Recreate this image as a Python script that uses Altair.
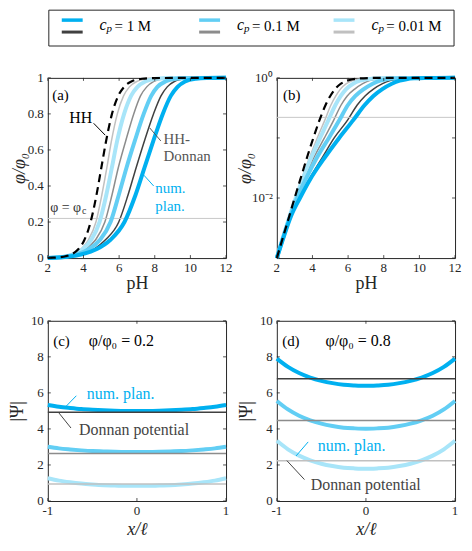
import altair as alt
import pandas as pd

# ---------------- data ----------------
PHI_LEVELS = [0.001, 0.002, 0.005, 0.01, 0.02, 0.05, 0.1, 0.2, 0.35, 0.5,
              0.65, 0.8, 0.9, 0.95, 0.98, 0.995, 0.999, 1.0]
PH_HH = [2.0, 2.30, 2.70, 3.00, 3.31, 3.72, 4.05, 4.40, 4.73, 5.00,
         5.27, 5.60, 5.95, 6.28, 6.69, 7.30, 8.0, 12.0]
PH_NUM_1 = [2.0, 2.33, 2.8, 3.3, 3.85, 4.75, 5.5, 6.3, 6.92, 7.42,
            7.92, 8.45, 8.9, 9.28, 9.7, 10.3, 10.9, 12.0]
PH_DON_1 = [2.0, 2.33, 2.8, 3.28, 3.8, 4.6, 5.22, 5.98, 6.5, 6.95,
            7.42, 7.93, 8.35, 8.7, 9.1, 9.7, 10.3, 12.0]
PH_NUM_01 = [2.0, 2.31, 2.75, 3.13, 3.6, 4.3, 4.92, 5.52, 5.98, 6.41,
             6.88, 7.38, 7.8, 8.15, 8.6, 9.2, 9.8, 12.0]
PH_DON_01 = [2.0, 2.31, 2.74, 3.1, 3.52, 4.12, 4.67, 5.2, 5.6, 5.95,
             6.37, 6.82, 7.2, 7.55, 7.95, 8.5, 9.1, 12.0]
PH_NUM_001 = [2.0, 2.3, 2.72, 3.06, 3.43, 3.97, 4.43, 4.9, 5.28, 5.59,
              5.89, 6.28, 6.67, 7.03, 7.47, 8.1, 8.8, 12.0]
PH_DON_001 = [2.0, 2.3, 2.71, 3.04, 3.38, 3.87, 4.27, 4.7, 5.03, 5.31,
              5.57, 5.9, 6.25, 6.58, 6.99, 7.6, 8.3, 12.0]
PHI_C = 0.22

X_POS = [-1, -0.875, -0.75, -0.625, -0.5, -0.375, -0.25, -0.125, 0,
         0.125, 0.25, 0.375, 0.5, 0.625, 0.75, 0.875, 1]
PSI_C_1 = [5.33, 5.23, 5.16, 5.10, 5.06, 5.03, 5.01, 5.00, 5.00,
           5.00, 5.01, 5.03, 5.06, 5.10, 5.16, 5.23, 5.33]
PSI_C_01 = [3.01, 2.92, 2.86, 2.81, 2.77, 2.75, 2.73, 2.72, 2.72,
            2.72, 2.73, 2.75, 2.77, 2.81, 2.86, 2.92, 3.01]
PSI_C_001 = [1.26, 1.13, 1.04, 0.97, 0.92, 0.88, 0.86, 0.84, 0.84,
             0.84, 0.86, 0.88, 0.92, 0.97, 1.04, 1.13, 1.26]
PSI_D_1 = [7.90, 7.44, 7.10, 6.85, 6.67, 6.54, 6.45, 6.41, 6.39,
           6.41, 6.45, 6.54, 6.67, 6.85, 7.10, 7.44, 7.90]
PSI_D_01 = [5.55, 5.08, 4.73, 4.48, 4.29, 4.16, 4.07, 4.03, 4.01,
            4.03, 4.07, 4.16, 4.29, 4.48, 4.73, 5.08, 5.55]
PSI_D_001 = [3.34, 2.87, 2.52, 2.26, 2.07, 1.94, 1.85, 1.81, 1.79,
             1.81, 1.85, 1.94, 2.07, 2.26, 2.52, 2.87, 3.34]
DONNAN_C = [4.93, 2.63, 0.95]
DONNAN_D = [6.79, 4.47, 2.24]

PH_TICKS = [2, 4, 6, 8, 10, 12]
PH_TICK_LABELS = ["2", "4", "6", "8", "10", "12"]
PHI_TICKS = [0, 0.2, 0.4, 0.6, 0.8, 1]
PHI_TICK_LABELS = ["0", "0.2", "0.4", "0.6", "0.8", "1"]
LOG_TICKS = [0.01, 1]
LOG_TICK_LABELS = ["10⁻²", "10⁰"]
LOG_MARKS = [0.001, 0.01, 0.1, 1]
X_TICKS = [-1, 0, 1]
X_TICK_LABELS = ["-1", "0", "1"]
PSI_TICKS = [0, 2, 4, 6, 8, 10]
PSI_TICK_LABELS = ["0", "2", "4", "6", "8", "10"]

CP_LABELS = ["1 M", "0.1 M", "0.01 M"]
NUM_COLORS = ["#00B0F0", "#62CEF4", "#A8E5F9"]
DON_COLORS = ["#404040", "#8C8C8C", "#C0C0C0"]
CYAN = "#00B0F0"
SERIF = "Liberation Serif"
INK = "#262626"

NUM_NAMES = ["num " + c for c in CP_LABELS]
DON_NAMES = ["don " + c for c in CP_LABELS]
COLOR_SCALE = alt.Scale(domain=NUM_NAMES + DON_NAMES + ["HH"],
                        range=NUM_COLORS + DON_COLORS + ["#000000"])


def long_curves(arrays, names, xs, xname, yname):
    rows = []
    for arr, name in zip(arrays, names):
        for i, (a, b) in enumerate(zip(xs, arr)):
            rows.append({"series": name, xname: a, yname: b, "idx": i})
    return pd.DataFrame(rows)


def long_ph(arrays, names):
    rows = []
    for arr, name in zip(arrays, names):
        for i, (p, f) in enumerate(zip(arr, PHI_LEVELS)):
            rows.append({"series": name, "pH": p, "phi": f, "idx": i})
    return pd.DataFrame(rows)


df_num = long_ph([PH_NUM_001, PH_NUM_01, PH_NUM_1], NUM_NAMES[::-1])
df_don = long_ph([PH_DON_001, PH_DON_01, PH_DON_1], DON_NAMES[::-1])
df_hh = long_ph([PH_HH], ["HH"])

W1, W2, H = 179, 179, 181
COL_GAP, ROW_GAP = 51, 63
TICK = 3
one = pd.DataFrame({"a": [0]})


def text(t, x, y, color="#000000", size=15, **kw):
    return alt.Chart(pd.DataFrame({"t": [t]})).mark_text(
        align="left", baseline="middle", font=SERIF, fontSize=size,
        color=color, **kw).encode(x=alt.datum(x), y=alt.datum(y), text="t:N")


def ptext(t, x, y, size=15, style="normal"):
    return alt.Chart(pd.DataFrame({"t": [t]})).mark_text(
        align="left", baseline="middle", font=SERIF, fontSize=size, fontStyle=style,
        color="#000000").encode(x=alt.value(x), y=alt.value(y), text="t:N")


def pointer(x1, y1, x2, y2, color):
    return alt.Chart(one).mark_rule(color=color, strokeWidth=1).encode(
        x=alt.datum(x1), y=alt.datum(y1), x2=alt.datum(x2), y2=alt.datum(y2))


def ylabels(field, ticks, labels, Y):
    df = pd.DataFrame({field: ticks, "lab": labels})
    return alt.Chart(df).mark_text(align="right", baseline="middle", font=SERIF,
                                   fontSize=13, color=INK).encode(
        x=alt.value(-4), y=Y, text="lab:N")


def xlabels(field, ticks, labels, X):
    df = pd.DataFrame({field: ticks, "lab": labels})
    return alt.Chart(df).mark_text(align="center", baseline="top", font=SERIF,
                                   fontSize=13, color=INK).encode(
        x=X, y=alt.value(H + 4), text="lab:N")


def tick_marks(xfield, xticks, X, yfield, yticks, Y, width):
    dx = pd.DataFrame({xfield: xticks})
    dy = pd.DataFrame({yfield: yticks})
    r = dict(color=INK, strokeWidth=0.8)
    return [
        alt.Chart(dx).mark_rule(**r).encode(x=X, y=alt.value(H), y2=alt.value(H - TICK)),
        alt.Chart(dx).mark_rule(**r).encode(x=X, y=alt.value(0), y2=alt.value(TICK)),
        alt.Chart(dy).mark_rule(**r).encode(y=Y, x=alt.value(0), x2=alt.value(TICK)),
        alt.Chart(dy).mark_rule(**r).encode(y=Y, x=alt.value(width), x2=alt.value(width - TICK)),
    ]


def legend_layers():
    # legend box drawn above panel (a), in pixel offsets from its plot area
    right = W1 + COL_GAP + W2 - 1
    out = [alt.Chart(one).mark_rect(fillOpacity=0, stroke=INK, strokeWidth=1).encode(
        x=alt.value(1), x2=alt.value(right), y=alt.value(-68), y2=alt.value(-32))]
    leg_x = [14, 152, 287]
    for i, lab in enumerate(CP_LABELS):
        x0 = leg_x[i]
        out.append(alt.Chart(one).mark_rule(color=NUM_COLORS[i], strokeWidth=3.5).encode(
            x=alt.value(x0), x2=alt.value(x0 + 21), y=alt.value(-58)))
        out.append(alt.Chart(one).mark_rule(color=DON_COLORS[i], strokeWidth=3).encode(
            x=alt.value(x0), x2=alt.value(x0 + 21), y=alt.value(-46)))
        out.append(ptext("c", x0 + 38, -53, 16, "italic"))
        out.append(ptext("p", x0 + 45, -49, 11, "italic"))
        out.append(ptext("= " + lab, x0 + 53, -52, 15))
    return out


def ph_panel(log, width):
    if log:
        yscale = alt.Scale(type="log", domain=[0.001, 1])
        yaxis = alt.Axis(labels=False, title="φ/φ₀", titleX=-22, titleBaseline="bottom")
        yt, yl, ym = LOG_TICKS, LOG_TICK_LABELS, LOG_MARKS
    else:
        yscale = alt.Scale(domain=[0, 1])
        yaxis = alt.Axis(labels=False, title="φ/φ₀", titleX=-19, titleBaseline="bottom")
        yt, yl, ym = PHI_TICKS, PHI_TICK_LABELS, PHI_TICKS
    xscale = alt.Scale(domain=[2, 12])
    xaxis = alt.Axis(labels=False, title="pH", titleFontStyle="normal", titlePadding=17)
    X = alt.X("pH:Q", scale=xscale, axis=xaxis)
    Y = alt.Y("phi:Q", scale=yscale, axis=yaxis)
    col = alt.Color("series:N", scale=COLOR_SCALE, legend=None)
    thin = alt.Chart(df_don).mark_line(strokeWidth=1.5, interpolate="monotone").encode(
        x=X, y=Y, color=col, order="idx:Q")
    rule = alt.Chart(pd.DataFrame({"phi": [PHI_C]})).mark_rule(
        color="#C8C8C8", strokeWidth=1).encode(y=Y)
    thick = alt.Chart(df_num).mark_line(strokeWidth=4, interpolate="monotone").encode(
        x=X, y=Y, color=col, order="idx:Q")
    dashed = alt.Chart(df_hh).mark_line(strokeWidth=2.2, strokeDash=[8, 5],
                                        interpolate="monotone").encode(
        x=X, y=Y, color=col, order="idx:Q")
    layers = [thin, rule, thick, dashed,
              ylabels("phi", yt, yl, Y), xlabels("pH", PH_TICKS, PH_TICK_LABELS, X)]
    layers += tick_marks("pH", PH_TICKS, X, "phi", ym, Y, width)
    if not log:
        layers += [
            text("(a)", 2.25, 0.905, size=15),
            text("HH", 3.2, 0.775, size=16),
            pointer(4.57, 0.748, 5.22, 0.682, "#000000"),
            text("HH-", 8.49, 0.658, "#555555", 15),
            text("Donnan", 8.49, 0.568, "#555555", 15),
            pointer(8.34, 0.65, 7.72, 0.722, "#555555"),
            text("num.", 8.03, 0.391, CYAN, 15),
            text("plan.", 8.03, 0.29, CYAN, 15),
            pointer(7.94, 0.40, 7.39, 0.46, CYAN),
            text("φ = φ", 2.13, 0.277, "#333333", 14),
            text("c", 3.92, 0.262, "#333333", 10),
        ] + legend_layers()
    else:
        layers += [text("(b)", 2.35, 0.52, size=15)]
    return alt.layer(*layers).properties(width=width, height=H)


def psi_panel(curves, donnan, width, label, phi_text, annots, title_x):
    xscale = alt.Scale(domain=[-1, 1])
    yscale = alt.Scale(domain=[0, 10])
    X = alt.X("x:Q", scale=xscale, axis=alt.Axis(labels=False, title="x/ℓ",
                                                 titlePadding=20))
    Y = alt.Y("psi:Q", scale=yscale, axis=alt.Axis(labels=False, title="|Ψ|",
                                                   titleFontStyle="normal",
                                                   titleX=title_x, titleBaseline="bottom"))
    col = alt.Color("series:N", scale=COLOR_SCALE, legend=None)
    dfc = long_curves(curves, NUM_NAMES, X_POS, "x", "psi")
    dfd = pd.DataFrame({"series": DON_NAMES, "psi": donnan})
    thick = alt.Chart(dfc).mark_line(strokeWidth=4, interpolate="monotone").encode(
        x=X, y=Y, color=col, order="idx:Q")
    lines = alt.Chart(dfd).mark_rule(strokeWidth=1.5).encode(y=Y, color=col)
    layers = [thick, lines,
              ylabels("psi", PSI_TICKS, PSI_TICK_LABELS, Y),
              xlabels("x", X_TICKS, X_TICK_LABELS, X),
              text(label, -0.94, 8.9, size=15),
              text(phi_text, annots[0], 8.9, size=16)]
    layers += tick_marks("x", X_TICKS, X, "psi", PSI_TICKS, Y, width)
    (nx, ny, p1), (dx, dy, p2) = annots[1], annots[2]
    layers += [text("num. plan.", nx, ny, CYAN, 16),
               pointer(*p1, CYAN),
               text("Donnan potential", dx, dy, "#444444", 16),
               pointer(*p2, "#444444")]
    return alt.layer(*layers).properties(width=width, height=H)


pa = ph_panel(False, W1)
pb = ph_panel(True, W2)
pc = psi_panel([PSI_C_1, PSI_C_01, PSI_C_001], DONNAN_C, W1, "(c)", "φ/φ₀ = 0.2",
               [-0.54, (-0.563, 5.95, (-0.68, 5.84, -0.80, 5.23)),
                (-0.65, 3.92, (-0.74, 4.05, -0.876, 4.89))], -21)
pd_ = psi_panel([PSI_D_1, PSI_D_01, PSI_D_001], DONNAN_D, W2, "(d)", "φ/φ₀ = 0.8",
                [-0.454, (-0.54, 3.05, (-0.648, 3.28, -0.784, 2.50)),
                 (-0.62, 0.86, (-0.69, 1.19, -0.887, 2.24))], -21)

chart = alt.concat(pa, pb, pc, pd_, columns=2, spacing={"row": ROW_GAP, "column": COL_GAP},
                   bounds="flush").properties(
    padding={"left": 0, "top": 0, "right": 0, "bottom": 0}
).configure_view(stroke=INK, strokeWidth=1).configure_axis(
    domain=False, ticks=False, grid=False, titleFont=SERIF,
    titleFontSize=18, titleFontWeight="normal", titleFontStyle="italic",
    titleColor=INK
)

chart.save("out.html", embed_options={"renderer": "svg", "actions": False})
